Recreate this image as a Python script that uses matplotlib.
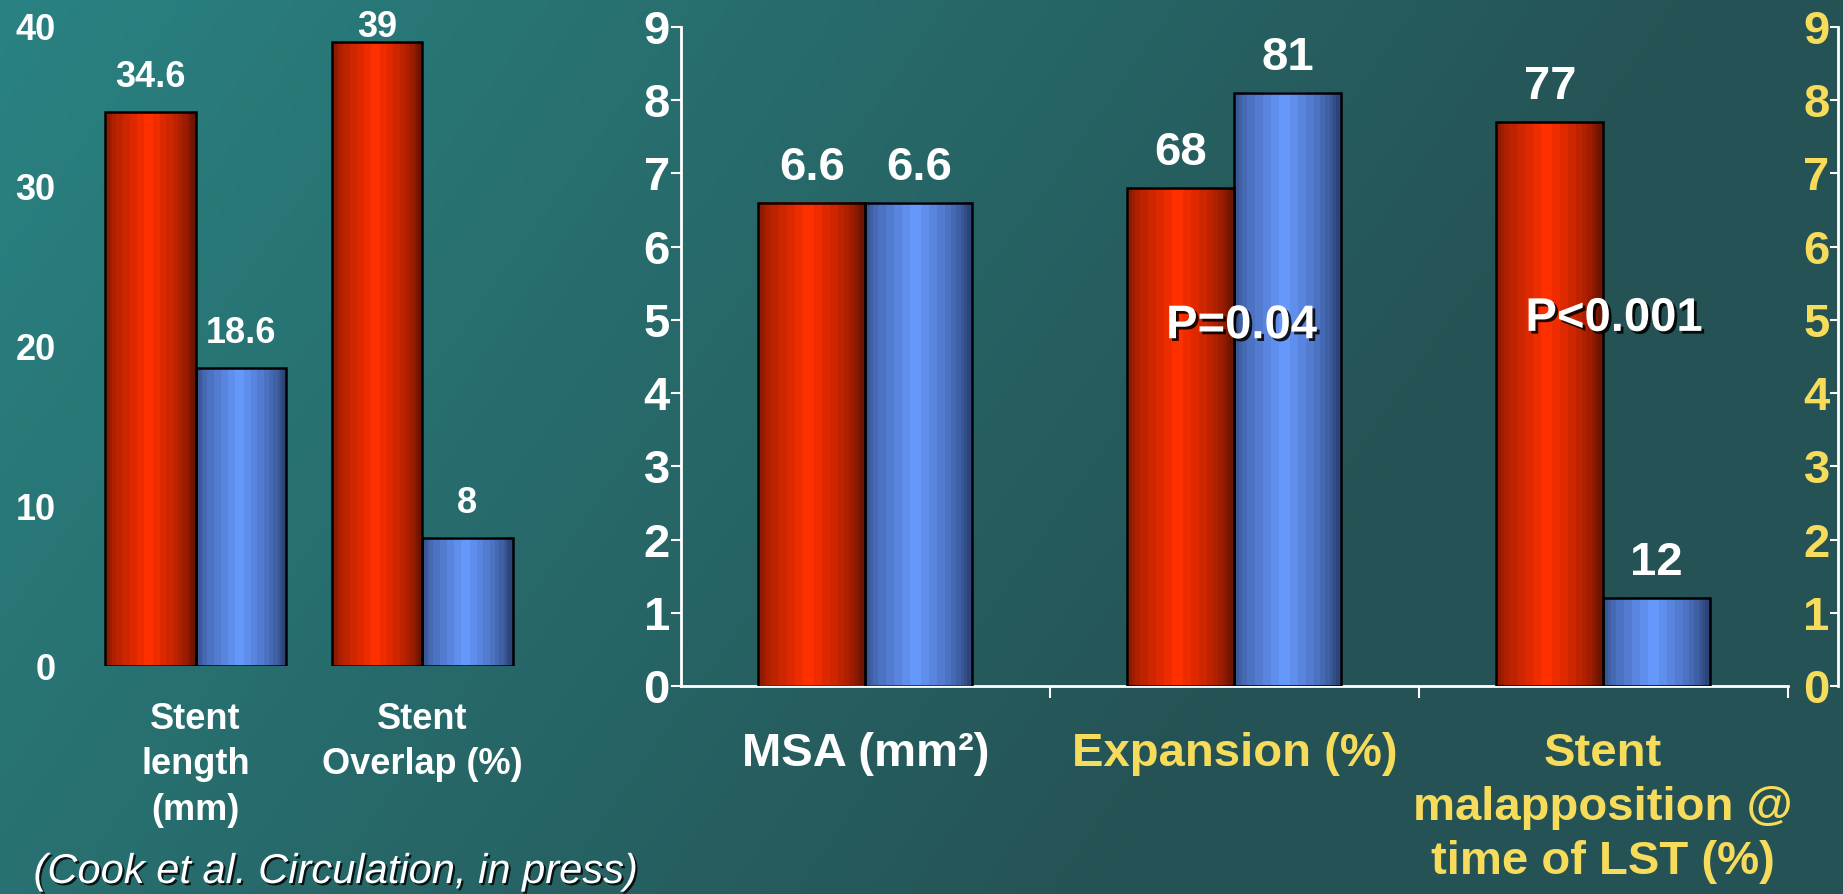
import numpy as np
import matplotlib.pyplot as plt
import matplotlib.patheffects as pe

plt.rcParams['font.family'] = ['Liberation Sans', 'DejaVu Sans']
plt.rcParams['font.weight'] = 'bold'

# stent length / overlap (left panel)
left_cats = ['Stent\nlength\n(mm)', 'Stent\nOverlap (%)']
left_red = [34.6, 39]
left_blue = [18.6, 8]
left_ticks = [0, 10, 20, 30, 40]

# MSA on the left axis, percentages on the right axis
msa_cat = 'MSA (mm²)'
msa_red = [6.6]
msa_blue = [6.6]
pct_cats = ['Expansion (%)', 'Stent\nmalapposition @\ntime of LST (%)']
pct_red = [68, 77]
pct_blue = [81, 12]
p_labels = ['P=0.04', 'P<0.001']
msa_ticks = list(range(10))
pct_ticks = [0, 10, 20, 30, 40, 50, 60, 70, 80, 90]
pct_tick_labels = ['0', '1', '2', '3', '4', '5', '6', '7', '8', '9']

YELLOW = '#f7dc5c'
RED_DARK, RED_LIGHT = np.array([110, 20, 0]), np.array([255, 48, 0])
BLUE_DARK, BLUE_LIGHT = np.array([45, 68, 122]), np.array([102, 152, 252])

W, H = 1843, 894
fig = plt.figure(figsize=(W / 100, H / 100), dpi=100)

# teal background, lighter in the upper left
bg = fig.add_axes([0, 0, 1, 1], zorder=-10)
yy, xx = np.mgrid[0:H:4, 0:W:4]
t = np.clip(xx / 1750 + yy / 2500, 0, 1)[..., None]
c0 = np.array([42, 130, 130]) / 255
c1 = np.array([37, 82, 84]) / 255
bg.imshow(c0 + (c1 - c0) * t, extent=[0, 1, 0, 1], aspect='auto')
bg.axis('off')


def shade(ax, bars, dark, light):
    # banded cylinder look across each bar
    u = np.linspace(0, 1, 40)
    b = np.clip(1 - np.abs(u - 0.47) / 0.5, 0, 1) ** 0.6
    b = np.round(b * 9) / 9
    row = (dark + (light - dark) * b[:, None]) / 255
    for p in bars:
        x0, y0 = p.get_xy()
        ax.imshow(row[None], extent=[x0, x0 + p.get_width(), y0, y0 + p.get_height()],
                  aspect='auto', interpolation='nearest', zorder=2)


def bars(ax, x, vals, w, dark, light):
    bc = ax.bar(x, vals, w, facecolor='none', edgecolor='black', linewidth=1.8, zorder=3)
    shade(ax, bc, dark, light)
    return bc


# ---- left panel ----
ax1 = fig.add_axes([59.7 / W, 1 - 666 / H, (558 - 59.7) / W, 640 / H])
ax1.set_facecolor('none')
x = np.arange(len(left_cats))
bw = 0.40
bars(ax1, x - bw / 2, left_red, bw, RED_DARK, RED_LIGHT)
bars(ax1, x + bw / 2, left_blue, bw, BLUE_DARK, BLUE_LIGHT)
ax1.set_xlim(-0.6, 1.6)
ax1.set_ylim(0, 40)
for s in ax1.spines.values():
    s.set_visible(False)
ax1.set_yticks(left_ticks)
ax1.tick_params(axis='y', length=0, pad=3, labelsize=26, labelcolor='white')
ax1.set_xticks(x, left_cats)
ax1.tick_params(axis='x', length=0, pad=26, labelsize=26, labelcolor='white')
for lab in ax1.get_xticklabels():
    lab.set_linespacing(1.38)
for xs, vals in ((x - bw / 2, left_red), (x + bw / 2, left_blue)):
    for xi, v in zip(xs, vals):
        ax1.text(xi, min(v + 1.56, 39.3), f'{v:g}', ha='center', va='baseline',
                 color='white', fontsize=26)

# ---- right panel ----
ax2 = fig.add_axes([681 / W, 1 - 686 / H, (1787.7 - 681) / W, (686 - 27) / H])
ax2.set_facecolor('none')
bw2 = 0.29
bars(ax2, [0 - bw2 / 2], msa_red, bw2, RED_DARK, RED_LIGHT)
bars(ax2, [0 + bw2 / 2], msa_blue, bw2, BLUE_DARK, BLUE_LIGHT)

ax3 = ax2.twinx()
xp = np.arange(1, 1 + len(pct_cats))
bars(ax3, xp - bw2 / 2, pct_red, bw2, RED_DARK, RED_LIGHT)
bars(ax3, xp + bw2 / 2, pct_blue, bw2, BLUE_DARK, BLUE_LIGHT)

ax2.set_xlim(-0.5, 2.5)
ax2.set_ylim(0, 9)
ax3.set_ylim(0, 90)

for xi, v in ((-bw2 / 2, msa_red[0]), (bw2 / 2, msa_blue[0])):
    ax2.text(xi, v + 0.315, f'{v:g}', ha='center', va='baseline', color='white', fontsize=34)
for xs, vals in ((xp - bw2 / 2, pct_red), (xp + bw2 / 2, pct_blue)):
    for xi, v in zip(xs, vals):
        ax3.text(xi, v + 3.15, f'{v:g}', ha='center', va='baseline', color='white', fontsize=34)

shadow = [pe.withSimplePatchShadow(offset=(2, -2), shadow_rgbFace='black', alpha=0.85)]
for xi, yi, s in zip((1.02, 2.03), (47.5, 48.5), p_labels):
    ax3.text(xi, yi, s, ha='center', va='baseline', color='white', fontsize=34,
             path_effects=shadow, zorder=5)

ax2.spines[['top', 'right']].set_visible(False)
for side in ('left', 'bottom'):
    ax2.spines[side].set_color('white')
    ax2.spines[side].set_linewidth(2)
ax2.set_yticks(msa_ticks)
ax2.tick_params(axis='y', colors='white', length=7, width=1.5, pad=1, labelsize=34)
ax2.set_xticks([0, 1, 2], [msa_cat] + pct_cats)
ax2.set_xticks([0.5, 1.5, 2.5], minor=True)
ax2.tick_params(axis='x', which='major', length=0, pad=33, labelsize=34)
ax2.tick_params(axis='x', which='minor', length=8.6, width=1.5, color='white')
for lab, col in zip(ax2.get_xticklabels(), ['white', YELLOW, YELLOW]):
    lab.set_color(col)
    lab.set_linespacing(1.3)

for side in ('top', 'left', 'bottom'):
    ax3.spines[side].set_visible(False)
ax3.spines['right'].set_position(('axes', 1.0455))
ax3.spines['right'].set_color('white')
ax3.spines['right'].set_linewidth(2)
ax3.set_yticks(pct_ticks, pct_tick_labels)
ax3.tick_params(axis='y', direction='in', length=6, width=1.5, color='white',
                labelcolor=YELLOW, labelsize=34, pad=-6)
for lab in ax3.get_yticklabels():
    lab.set_ha('right')

fig.text(33.5 / W, 1 - 883 / H, '(Cook et al. Circulation, in press)', color='white',
         fontsize=30, fontstyle='italic', fontweight='normal', va='baseline',
         path_effects=[pe.withSimplePatchShadow(offset=(1.5, -1.5), shadow_rgbFace='black', alpha=0.8)])

fig.savefig('out.png', dpi=100)
